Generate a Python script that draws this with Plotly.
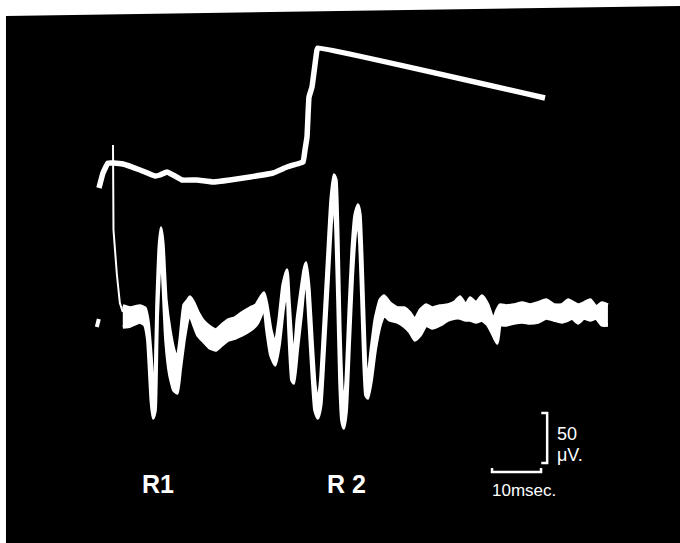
import plotly.graph_objects as go

# ---------------- data (time in ms from stimulus, amplitude in µV) ----------------
# lower trace (EMG) drawn as a noisy band: upper / lower envelope
band_t = [2.0, 3.5, 5.5, 6.5, 7.1, 7.8, 8.2, 8.6, 9.0, 9.4, 9.8, 10.2, 10.8, 11.6, 12.4, 13.1,
          13.7, 14.5, 15.3, 15.7, 16.5, 17.3, 18.6, 19.8, 21.0, 22.2, 23.5, 24.9, 26.3, 28.0,
          29.2, 30.2, 30.8, 31.4, 32.2, 33.1, 33.9, 34.7, 35.5, 35.9, 36.5, 36.9, 37.6, 38.4,
          39.0, 39.4, 40.0, 40.6, 41.2, 41.8, 42.4, 43.1, 43.9, 44.5, 45.1, 45.5, 45.9, 46.3,
          46.7, 47.1, 47.6, 48.2, 48.8, 49.4, 50.0, 50.4, 50.8, 51.2, 51.6, 52.0, 52.7, 53.5,
          54.5, 55.3, 56.5, 58.0, 59.4, 60.6, 61.6, 62.7, 63.9, 65.1, 66.7, 68.4, 69.8, 70.8,
          72.0, 72.9, 74.1, 75.3, 76.5, 77.6, 78.4, 79.0, 80.2, 81.8, 83.5, 85.1, 86.7, 88.4,
          90.0, 91.6, 92.9, 93.7, 94.9, 96.1, 97.4, 98.6, 99.8, 101.0]
band_hi = [14, 12, 14, 12, 0, -40, -75, -60, 20, 70, 92, 75, 20, -10, -30, -40,
           -20, 15, 20, 23, 17, 8, -2, -7, -10, -5, 0, 2, 7, 12,
           15, 23, 27, 15, -10, -25, 0, 35, 50, 20, -25, -40, 0, 30,
           50, 57, 30, -20, -65, -85, -60, 0, 70, 120, 145, 140, 80, -10,
           -70, -90, -60, 10, 70, 105, 115, 105, 60, 0, -50, -60, -30, 0,
           20, 24, 17, 12, 12, 7, 0, 10, 15, 12, 14, 15, 18, 23,
           15, 22, 17, 24, 15, 0, 10, 15, 14, 15, 17, 15, 17, 20,
           15, 15, 20, 18, 15, 17, 20, 13, 17, 15]
band_lo = [-7, -6, -2, -5, -20, -80, -98, -90, 0, 45, 80, 40, -20, -55, -70, -73,
           -50, -20, 2, 5, -5, -15, -22, -28, -30, -25, -20, -18, -15, -10,
           -5, 5, 15, -10, -35, -45, -25, 10, 35, -10, -60, -63, -30, 5,
           35, 45, 0, -50, -90, -98, -85, -30, 40, 95, 130, 90, 20, -60,
           -100, -108, -90, -25, 40, 85, 105, 75, 20, -40, -75, -78, -60, -30,
           -5, 5, 0, -2, -6, -12, -20, -15, -5, -8, -5, 0, 2, 2,
           0, 0, -2, 0, -5, -15, -23, -5, -5, -3, -2, -3, -2, 2,
           0, -2, 0, 2, -3, 2, 0, 2, -5, -5]

# stimulus artefact (thin line) and small blip before the sweep
artefact_t = [0.0, 0.1, 0.8, 1.4, 2.0]
artefact_v = [175, 90, 45, 17, 8]
blip_t = [-3.3, -2.9]
blip_v = [-7, 1]

# upper trace (stimulus / position monitor)
upper_t = [-2.86, -2.04, -1.02, 0.0, 2.04, 5.51, 8.57, 9.59, 11.02, 12.24, 14.08, 17.14,
           20.41, 23.88, 27.96, 32.65, 35.51, 37.55, 38.78, 39.18, 39.59, 40.0, 40.61,
           41.63, 41.84, 88.16]
upper_v = [132, 147, 157, 157, 156, 150, 144, 145, 148, 145, 140, 140,
           138, 140, 143, 147, 153, 156, 158, 170, 183, 223, 233, 270, 272, 222]

# labels and calibration
labels = ["R1", "R 2"]
label_t = [9.2, 47.6]
label_v = [-164, -164]
cal_ms = 10
cal_uv = 50
cal_text = ["50", "μV.", "10msec."]

# ---------------- figure ----------------
W, H = 680, 543
x_range = [-23.06, 115.71]
y_range = [-223, 320]

fig = go.Figure()

white = "#ffffff"

# band (noisy EMG)
fig.add_trace(go.Scatter(x=band_t, y=band_lo, mode="lines",
                         line=dict(color=white, width=3.5, shape="spline", smoothing=0.4),
                         hoverinfo="skip", showlegend=False))
fig.add_trace(go.Scatter(x=band_t, y=band_hi, mode="lines", fill="tonexty", fillcolor=white,
                         line=dict(color=white, width=3.5, shape="spline", smoothing=0.4),
                         hoverinfo="skip", showlegend=False))
fig.add_trace(go.Scatter(x=artefact_t, y=artefact_v, mode="lines",
                         line=dict(color=white, width=2), hoverinfo="skip", showlegend=False))
fig.add_trace(go.Scatter(x=blip_t, y=blip_v, mode="lines",
                         line=dict(color=white, width=4), hoverinfo="skip", showlegend=False))
fig.add_trace(go.Scatter(x=upper_t, y=upper_v, mode="lines",
                         line=dict(color=white, width=5.5, shape="spline", smoothing=0.3),
                         hoverinfo="skip", showlegend=False))

# calibration bars
h0_t, h_v = 77.35, -152
v_t, v0 = 88.6, -143
fig.add_trace(go.Scatter(x=[h0_t, h0_t, h0_t + cal_ms, h0_t + cal_ms],
                         y=[h_v + 4, h_v, h_v, h_v + 4], mode="lines",
                         line=dict(color=white, width=2.5), hoverinfo="skip", showlegend=False))
fig.add_trace(go.Scatter(x=[v_t - 1.2, v_t, v_t, v_t - 1.2],
                         y=[v0 + cal_uv, v0 + cal_uv, v0, v0], mode="lines",
                         line=dict(color=white, width=2.5), hoverinfo="skip", showlegend=False))

font_main = "Liberation Sans, Arial, sans-serif"
for txt, t, v in zip(labels, label_t, label_v):
    fig.add_annotation(x=t, y=v, text="<b>" + txt + "</b>", showarrow=False,
                       xanchor="center", yanchor="middle",
                       font=dict(family=font_main, size=25, color=white))
fig.add_annotation(x=90.2, y=-114, text=cal_text[0], showarrow=False, xanchor="left",
                   yanchor="middle", font=dict(family=font_main, size=18, color=white))
fig.add_annotation(x=90.2, y=-135, text=cal_text[1], showarrow=False, xanchor="left",
                   yanchor="middle", font=dict(family=font_main, size=18, color=white))
fig.add_annotation(x=77.0, y=-170, text=cal_text[2], showarrow=False, xanchor="left",
                   yanchor="middle", font=dict(family=font_main, size=17, color=white))

# black photographic background (slightly skewed top edge)
fig.add_shape(type="path", xref="paper", yref="paper", layer="below",
              path="M 0.0088 0.9705 L 1 0.989 L 1 0 L 0.0088 0 Z",
              fillcolor="#000000", line=dict(width=0))

fig.update_layout(width=W, height=H, margin=dict(l=0, r=0, t=0, b=0),
                  paper_bgcolor=white, plot_bgcolor=white, showlegend=False,
                  xaxis=dict(range=x_range, visible=False, fixedrange=True),
                  yaxis=dict(range=y_range, visible=False, fixedrange=True))

fig.write_html("out.html", config={"displayModeBar": False},
               post_script="document.body.style.margin='0';document.body.style.overflow='hidden';")
